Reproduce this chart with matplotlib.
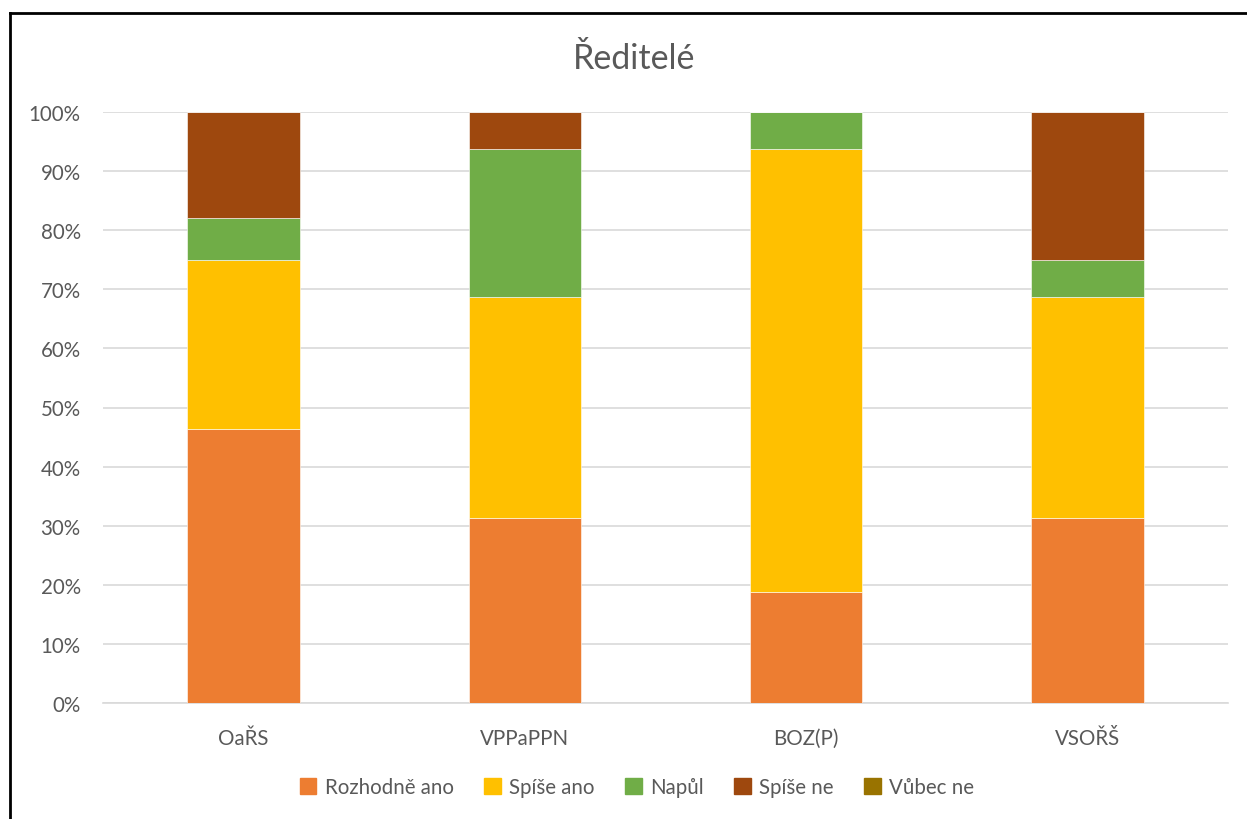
import matplotlib.pyplot as plt
import numpy as np
from matplotlib.patches import Rectangle
from matplotlib.lines import Line2D

plt.rcParams['font.family'] = ['Lato', 'DejaVu Sans']

categories = ['OaŘS', 'VPPaPPN', 'BOZ(P)', 'VSOŘŠ']
series = ['Rozhodně ano', 'Spíše ano', 'Napůl', 'Spíše ne', 'Vůbec ne']
rozhodne_ano = [46.43, 31.25, 18.75, 31.25]
spise_ano = [28.57, 37.5, 75.0, 37.5]
napul = [7.14, 25.0, 6.25, 6.25]
spise_ne = [17.86, 6.25, 0.0, 25.0]
vubec_ne = [0.0, 0.0, 0.0, 0.0]
colors = ['#ED7D31', '#FFC000', '#70AD47', '#9E480E', '#997300']

W, H = 1247, 820
fig = plt.figure(figsize=(W / 100, H / 100), dpi=100)
ax = fig.add_axes([103 / W, 1 - 704 / H, (1228 - 103) / W, (704 - 113) / H])

# frame of the chart object (cut off on the right and bottom)
fig.add_artist(Line2D([9.5 / W, 9.5 / W], [0, 1 - 14 / H], color='black', lw=2, transform=fig.transFigure))
fig.add_artist(Line2D([9.5 / W, 1], [1 - 14 / H, 1 - 14 / H], color='black', lw=2, transform=fig.transFigure))

x = np.arange(len(categories))
bottom = np.zeros(len(categories))
for name, vals, c in zip(series, [rozhodne_ano, spise_ano, napul, spise_ne, vubec_ne], colors):
    vals = np.array(vals)
    ax.bar(x, vals, 0.4, bottom=bottom, color=c, label=name, edgecolor='white', linewidth=0.4, zorder=3)
    bottom += vals

ax.set_xlim(-0.5, 3.5)
ax.set_ylim(0, 100)
ax.set_yticks(np.arange(0, 101, 10))
ax.set_yticklabels([f'{v}%' for v in range(0, 101, 10)])
ax.set_xticks(x)
ax.set_xticklabels(categories)
ax.grid(axis='y', color='#D9D9D9', lw=1.2, zorder=0)
for s in ['top', 'right', 'left']:
    ax.spines[s].set_visible(False)
ax.spines['bottom'].set_color('#D9D9D9')
ax.spines['bottom'].set_linewidth(1.2)
ax.tick_params(axis='both', length=0, colors='#595959', labelsize=14.8)
ax.tick_params(axis='y', pad=16)
ax.tick_params(axis='x', pad=18)

fig.text(634 / W, 1 - 59 / H, 'Ředitelé', ha='center', va='center', fontsize=24.5, color='#595959')

handles = [Rectangle((0, 0), 1, 1, color=c) for c in colors]
leg = fig.legend(handles, series, loc='center', bbox_to_anchor=(637 / W, 1 - 788 / H), ncol=5,
                 frameon=False, fontsize=14.8, handlelength=0.8, handleheight=0.8,
                 handletextpad=0.4, columnspacing=1.5)
for t in leg.get_texts():
    t.set_color('#595959')

fig.savefig('out.png', dpi=100)
